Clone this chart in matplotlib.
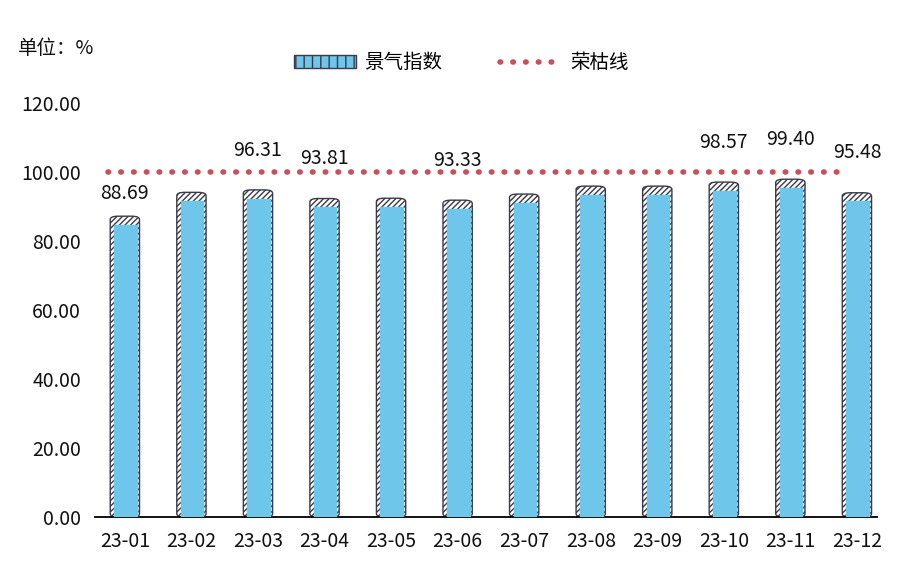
import matplotlib.pyplot as plt
from matplotlib.patches import FancyBboxPatch, Patch
from matplotlib.lines import Line2D

plt.rcParams['font.family'] = ['Noto Sans CJK SC', 'DejaVu Sans']

months = ['23-01', '23-02', '23-03', '23-04', '23-05', '23-06',
          '23-07', '23-08', '23-09', '23-10', '23-11', '23-12']
index_vals = [88.69, 95.6, 96.31, 93.81, 93.9, 93.33, 95.1, 97.4, 97.4, 98.57, 99.40, 95.48]
shown = [True, False, True, True, False, True, False, False, False, True, True, True]
boom_line = 100.0

fig = plt.figure(figsize=(9.04, 5.72), dpi=100)
ax = fig.add_axes([0.105, 0.096, 0.865, 0.724])
x = list(range(len(months)))
w = 0.44
for xi, v, s in zip(x, index_vals, shown):
    outer = FancyBboxPatch((xi - w / 2, 0), w, v - 1.5, boxstyle='round,pad=0,rounding_size=0.12',
                           mutation_aspect=8, facecolor='white', edgecolor='#3a3a4a',
                           hatch='//////', linewidth=1.0, zorder=2)
    ax.add_patch(outer)
    ax.bar(xi + 0.01, v - 4.0, width=w - 0.1, color='#6ec6ea', edgecolor='#6ec6ea', zorder=3)
    if s:
        # the lowest bar's label sits under the boom line, as in the source
        y_lab = v + 2 if v < 92 else v + 7
        ax.text(xi, y_lab, f'{v:.2f}', ha='center', va='bottom', fontsize=14, color='#111111',
                zorder=5)

ax.plot([-0.25, len(months) - 1.3], [boom_line, boom_line], linestyle=(0, (0.1, 2.2)),
        dash_capstyle='round', color='#c8505a', linewidth=4, zorder=4)

ax.set_xlim(-0.45, len(months) - 0.7)
ax.set_ylim(0, 120)
ax.set_yticks([0, 20, 40, 60, 80, 100, 120])
ax.set_yticklabels([f'{t:.2f}' for t in [0, 20, 40, 60, 80, 100, 120]])
ax.set_xticks(x)
ax.set_xticklabels(months)
ax.tick_params(axis='both', labelsize=14, length=0, colors='#111111')
ax.tick_params(axis='x', pad=10)
ax.tick_params(axis='y', pad=10)
for side in ['top', 'right', 'left']:
    ax.spines[side].set_visible(False)
ax.spines['bottom'].set_linewidth(1.3)

fig.text(0.02, 0.905, '单位：%', fontsize=14, color='#111111')

handles = [Patch(facecolor='#6ec6ea', edgecolor='#3a3a4a', hatch='||', label='景气指数'),
           Line2D([0], [0], linestyle=(0, (0.1, 2.2)), dash_capstyle='round', color='#c8505a',
                  linewidth=4, label='荣枯线')]
fig.legend(handles=handles, loc='center', bbox_to_anchor=(0.51, 0.89), ncol=2, frameon=False,
           fontsize=14, handlelength=3.2, handletextpad=0.4, columnspacing=3)

fig.savefig('out.png', dpi=100)
